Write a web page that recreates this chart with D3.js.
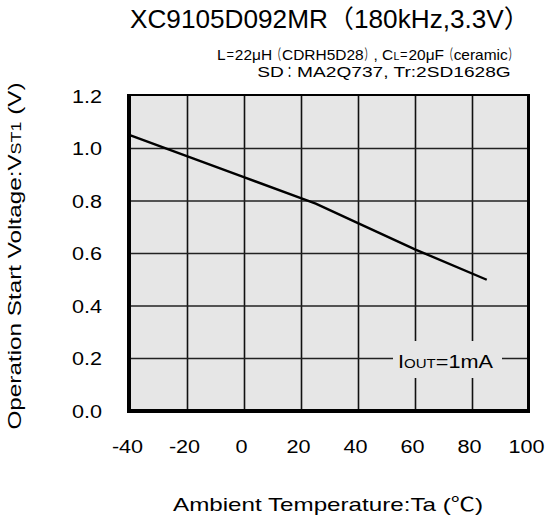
<!DOCTYPE html>
<html>
<head>
<meta charset="utf-8">
<script src="https://cdn.jsdelivr.net/npm/d3@7"></script>
<style>
  body { margin: 0; background: #fff; }
  svg text { font-family: "Liberation Sans", Arial, "Noto Sans CJK JP", sans-serif; fill: #000; }
</style>
</head>
<body>
<div id="chart"></div>
<script>
// data
const temps = [-40, -20, 0, 20, 25, 40, 60, 85];
const vst1 = [1.05, 0.97, 0.89, 0.81, 0.79, 0.715, 0.615, 0.50];

const xTicks = [-40, -20, 0, 20, 40, 60, 80, 100];
const yTicks = [0, 0.2, 0.4, 0.6, 0.8, 1.0, 1.2];

const width = 547, height = 527;
const bg = "#e6e6e6";

const svg = d3.select("#chart").append("svg")
    .attr("width", width)
    .attr("height", height);

const x = d3.scaleLinear().domain([-40, 100]).range([130.5, 529.5]);
const y = d3.scaleLinear().domain([0, 1.2]).range([411, 96]);

// the original text is drawn a bit wider than normal, so stretch it
function stretch(sel, k) {
    sel.each(function () {
        let w = this.getComputedTextLength();
        d3.select(this).attr("textLength", w * k).attr("lengthAdjust", "spacingAndGlyphs");
    });
}

// lay a line out in runs, full width chars get narrower slots, whole line fit to total
function runLine(parts, xRight, yBase, total) {
    let runs = [];
    parts.forEach(p => {
        let cur = "", wide = null;
        for (let ch of p.t) {
            let w = ch.charCodeAt(0) > 0x2E80;
            if (wide !== null && w !== wide) { runs.push({t: cur, size: p.size, wide: wide}); cur = ""; }
            cur += ch; wide = w;
        }
        if (cur) runs.push({t: cur, size: p.size, wide: wide});
    });
    let g = svg.append("g");
    let els = g.selectAll("text").data(runs).enter().append("text")
        .attr("x", 0).attr("y", 0)
        .style("font-size", d => d.size + "px")
        .text(d => d.t);
    let nat = [];
    els.each(function () { nat.push(this.getComputedTextLength()); });
    let ws = runs.map((d, i) => nat[i] * (d.wide ? 0.55 : 1));
    let k = total / d3.sum(ws);
    let cx = xRight - total;
    els.each(function (d, i) {
        let sx = ws[i] * k / nat[i] * 0.98;
        d3.select(this).attr("transform", `translate(${cx + ws[i] * k * 0.01},${yBase}) scale(${sx},1)`);
        cx += ws[i] * k;
    });
}

// plot background
svg.append("rect")
    .attr("x", x(-40)).attr("y", y(1.2))
    .attr("width", x(100) - x(-40)).attr("height", y(0) - y(1.2))
    .attr("fill", bg);

// grid
svg.append("g").selectAll("line")
    .data(xTicks.slice(1, -1))
    .enter().append("line")
    .attr("x1", d => x(d)).attr("x2", d => x(d))
    .attr("y1", y(1.2)).attr("y2", y(0))
    .attr("stroke", "#111").attr("stroke-width", 1.6);

svg.append("g").selectAll("line")
    .data(yTicks.slice(1, -1))
    .enter().append("line")
    .attr("x1", x(-40)).attr("x2", x(100))
    .attr("y1", d => y(d)).attr("y2", d => y(d))
    .attr("stroke", "#222").attr("stroke-width", 1.6);

// curve
svg.append("path")
    .datum(temps.map((t, i) => [t, vst1[i]]))
    .attr("fill", "none")
    .attr("stroke", "#000")
    .attr("stroke-width", 2.4)
    .attr("d", d3.line().x(d => x(d[0])).y(d => y(d[1])));

// label box that hides the grid behind it
svg.append("rect")
    .attr("x", 393).attr("y", 341)
    .attr("width", 109).attr("height", 37)
    .attr("fill", bg);

let lbl = svg.append("text")
    .attr("x", 398).attr("y", 368)
    .style("font-size", "18px");
lbl.append("tspan").text("I");
lbl.append("tspan").style("font-size", "12.5px").text("OUT");
lbl.append("tspan").text("=1mA");
lbl.attr("textLength", 95).attr("lengthAdjust", "spacingAndGlyphs");

// frame
svg.append("line").attr("x1", x(-40)).attr("x2", x(100)).attr("y1", 95).attr("y2", 95)
    .attr("stroke", "#000").attr("stroke-width", 2);
svg.append("line").attr("x1", 528.5).attr("x2", 528.5).attr("y1", 94).attr("y2", 413)
    .attr("stroke", "#000").attr("stroke-width", 3);
svg.append("line").attr("x1", 129).attr("x2", 129).attr("y1", 94).attr("y2", 413)
    .attr("stroke", "#000").attr("stroke-width", 4);
svg.append("line").attr("x1", 127).attr("x2", 530).attr("y1", 411).attr("y2", 411)
    .attr("stroke", "#000").attr("stroke-width", 4);

// axes tick labels
svg.append("g").selectAll("text")
    .data(xTicks)
    .enter().append("text")
    .attr("x", d => x(d) - 3)
    .attr("y", 453)
    .attr("text-anchor", "middle")
    .style("font-size", "18px")
    .text(d => d)
    .call(stretch, 1.2);

svg.append("g").selectAll("text")
    .data(yTicks)
    .enter().append("text")
    .attr("x", 102)
    .attr("y", d => y(d) + 6.5)
    .attr("text-anchor", "end")
    .style("font-size", "18px")
    .text(d => d3.format(".1f")(d))
    .call(stretch, 1.2);

// titles
svg.append("text")
    .attr("x", 330).attr("y", 28)
    .attr("text-anchor", "middle")
    .style("font-size", "25px")
    .attr("textLength", 400).attr("lengthAdjust", "spacingAndGlyphs")
    .text("XC9105D092MR（180kHz,3.3V）");

runLine([
    {t: "L＝22μH（CDRH5D28）, C", size: 14.5},
    {t: "L", size: 10},
    {t: "＝20μF（ceramic）", size: 14.5}
], 517, 60, 300);

runLine([{t: "SD：MA2Q737, Tr:2SD1628G", size: 14.5}], 513, 77, 256);

svg.append("text")
    .attr("x", 328).attr("y", 511)
    .attr("text-anchor", "middle")
    .style("font-size", "19px")
    .attr("textLength", 310).attr("lengthAdjust", "spacingAndGlyphs")
    .text("Ambient Temperature:Ta (℃)");

let yt = svg.append("text")
    .attr("transform", "translate(21,256) rotate(-90)")
    .attr("text-anchor", "middle")
    .style("font-size", "19px");
yt.append("tspan").text("Operation Start Voltage:V");
yt.append("tspan").style("font-size", "14px").text("ST1");
yt.append("tspan").text(" (V)");
yt.attr("textLength", 347).attr("lengthAdjust", "spacingAndGlyphs");
</script>
</body>
</html>
